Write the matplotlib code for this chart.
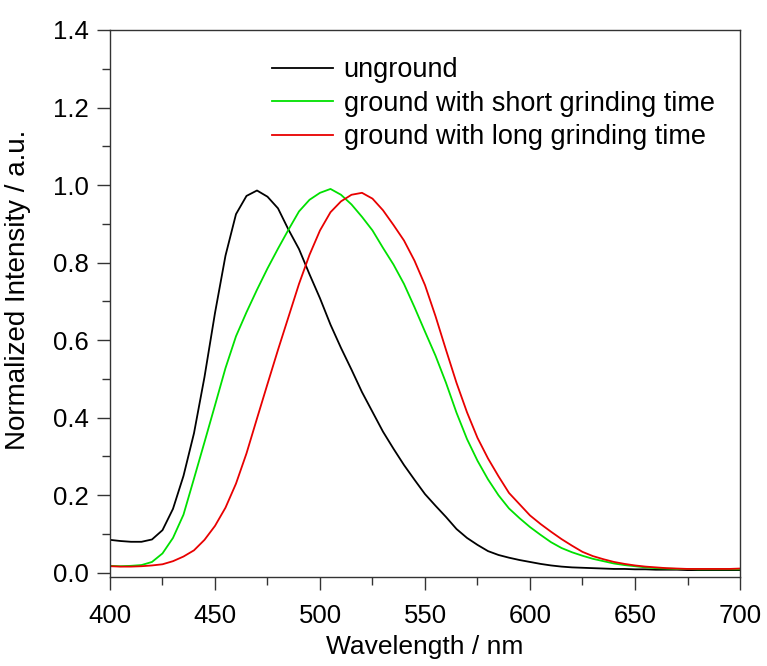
import numpy as np
import matplotlib
matplotlib.use("Agg")
import matplotlib.pyplot as plt
from matplotlib.ticker import MultipleLocator, FormatStrFormatter

plt.rcParams['font.family'] = ['Liberation Sans', 'DejaVu Sans']

# emission spectra, read every 5 nm (normalized intensity)
wavelength = [400, 405, 410, 415, 420, 425, 430, 435, 440, 445,
              450, 455, 460, 465, 470, 475, 480, 485, 490, 495,
              500, 505, 510, 515, 520, 525, 530, 535, 540, 545,
              550, 555, 560, 565, 570, 575, 580, 585, 590, 595,
              600, 605, 610, 615, 620, 625, 630, 635, 640, 645,
              650, 655, 660, 665, 670, 675, 680, 685, 690, 695, 700]

unground = [0.085, 0.082, 0.080, 0.080, 0.086, 0.110, 0.165, 0.250, 0.360, 0.505,
            0.670, 0.818, 0.925, 0.972, 0.986, 0.970, 0.940, 0.885, 0.835, 0.770,
            0.708, 0.640, 0.580, 0.524, 0.466, 0.415, 0.364, 0.320, 0.278, 0.240,
            0.203, 0.173, 0.144, 0.113, 0.090, 0.072, 0.056, 0.046, 0.039, 0.033,
            0.028, 0.023, 0.019, 0.016, 0.014, 0.013, 0.012, 0.011, 0.010, 0.010,
            0.009, 0.009, 0.008, 0.008, 0.008, 0.007, 0.007, 0.007, 0.007, 0.007, 0.007]

short_grind = [0.018, 0.017, 0.018, 0.020, 0.028, 0.050, 0.090, 0.150, 0.243, 0.337,
               0.432, 0.528, 0.610, 0.672, 0.730, 0.785, 0.836, 0.885, 0.932, 0.962,
               0.980, 0.990, 0.975, 0.950, 0.918, 0.883, 0.838, 0.795, 0.745, 0.685,
               0.622, 0.560, 0.490, 0.413, 0.345, 0.289, 0.241, 0.200, 0.166, 0.141,
               0.118, 0.098, 0.079, 0.064, 0.053, 0.044, 0.036, 0.030, 0.024, 0.020,
               0.017, 0.014, 0.012, 0.011, 0.010, 0.010, 0.009, 0.009, 0.009, 0.009, 0.009]

long_grind = [0.017, 0.016, 0.016, 0.017, 0.019, 0.022, 0.030, 0.042, 0.058, 0.085,
              0.121, 0.168, 0.230, 0.308, 0.398, 0.487, 0.575, 0.660, 0.745, 0.820,
              0.883, 0.930, 0.958, 0.975, 0.980, 0.965, 0.935, 0.897, 0.857, 0.805,
              0.742, 0.662, 0.575, 0.490, 0.414, 0.348, 0.295, 0.249, 0.206, 0.177,
              0.148, 0.126, 0.106, 0.087, 0.070, 0.054, 0.043, 0.035, 0.028, 0.023,
              0.019, 0.016, 0.014, 0.012, 0.011, 0.010, 0.010, 0.010, 0.010, 0.010, 0.011]

labels = ['unground', 'ground with short grinding time', 'ground with long grinding time']
colors = ['black', '#00e000', '#e80000']

fig = plt.figure(figsize=(7.67, 6.66), dpi=100)
ax = fig.add_axes([0.1434, 0.1341, 0.8214, 0.8209])

for y, lab, c in zip([unground, short_grind, long_grind], labels, colors):
    ax.plot(wavelength, y, color=c, lw=1.3, label=lab)

ax.set_xlim(400, 700)
ax.set_ylim(-0.01, 1.4)
ax.xaxis.set_major_locator(MultipleLocator(50))
ax.xaxis.set_minor_locator(MultipleLocator(25))
ax.yaxis.set_major_locator(MultipleLocator(0.2))
ax.yaxis.set_minor_locator(MultipleLocator(0.1))
ax.yaxis.set_major_formatter(FormatStrFormatter('%.1f'))

for s in ax.spines.values():
    s.set_color('#333333')
    s.set_linewidth(1.0)
ax.tick_params(which='major', direction='out', length=9.5, width=1.0,
               color='#333333', labelsize=18.5)
ax.tick_params(which='minor', direction='out', length=5.8, width=1.0, color='#333333')
ax.tick_params(axis='x', which='major', pad=10)
ax.tick_params(axis='y', which='major', pad=6)

ax.set_xlabel('Wavelength / nm', fontsize=19)
ax.set_ylabel('Normalized Intensity / a.u.', fontsize=20)
ax.xaxis.set_label_coords(0.5, -0.1066)
ax.yaxis.set_label_coords(-0.125, 0.524)

ax.legend(loc='upper left', bbox_to_anchor=(0.257, 0.950), frameon=False,
          fontsize=19.5, handlelength=2.25, handletextpad=0.4,
          labelspacing=0.28, borderpad=0, borderaxespad=0)

fig.savefig('out.png', dpi=100)
